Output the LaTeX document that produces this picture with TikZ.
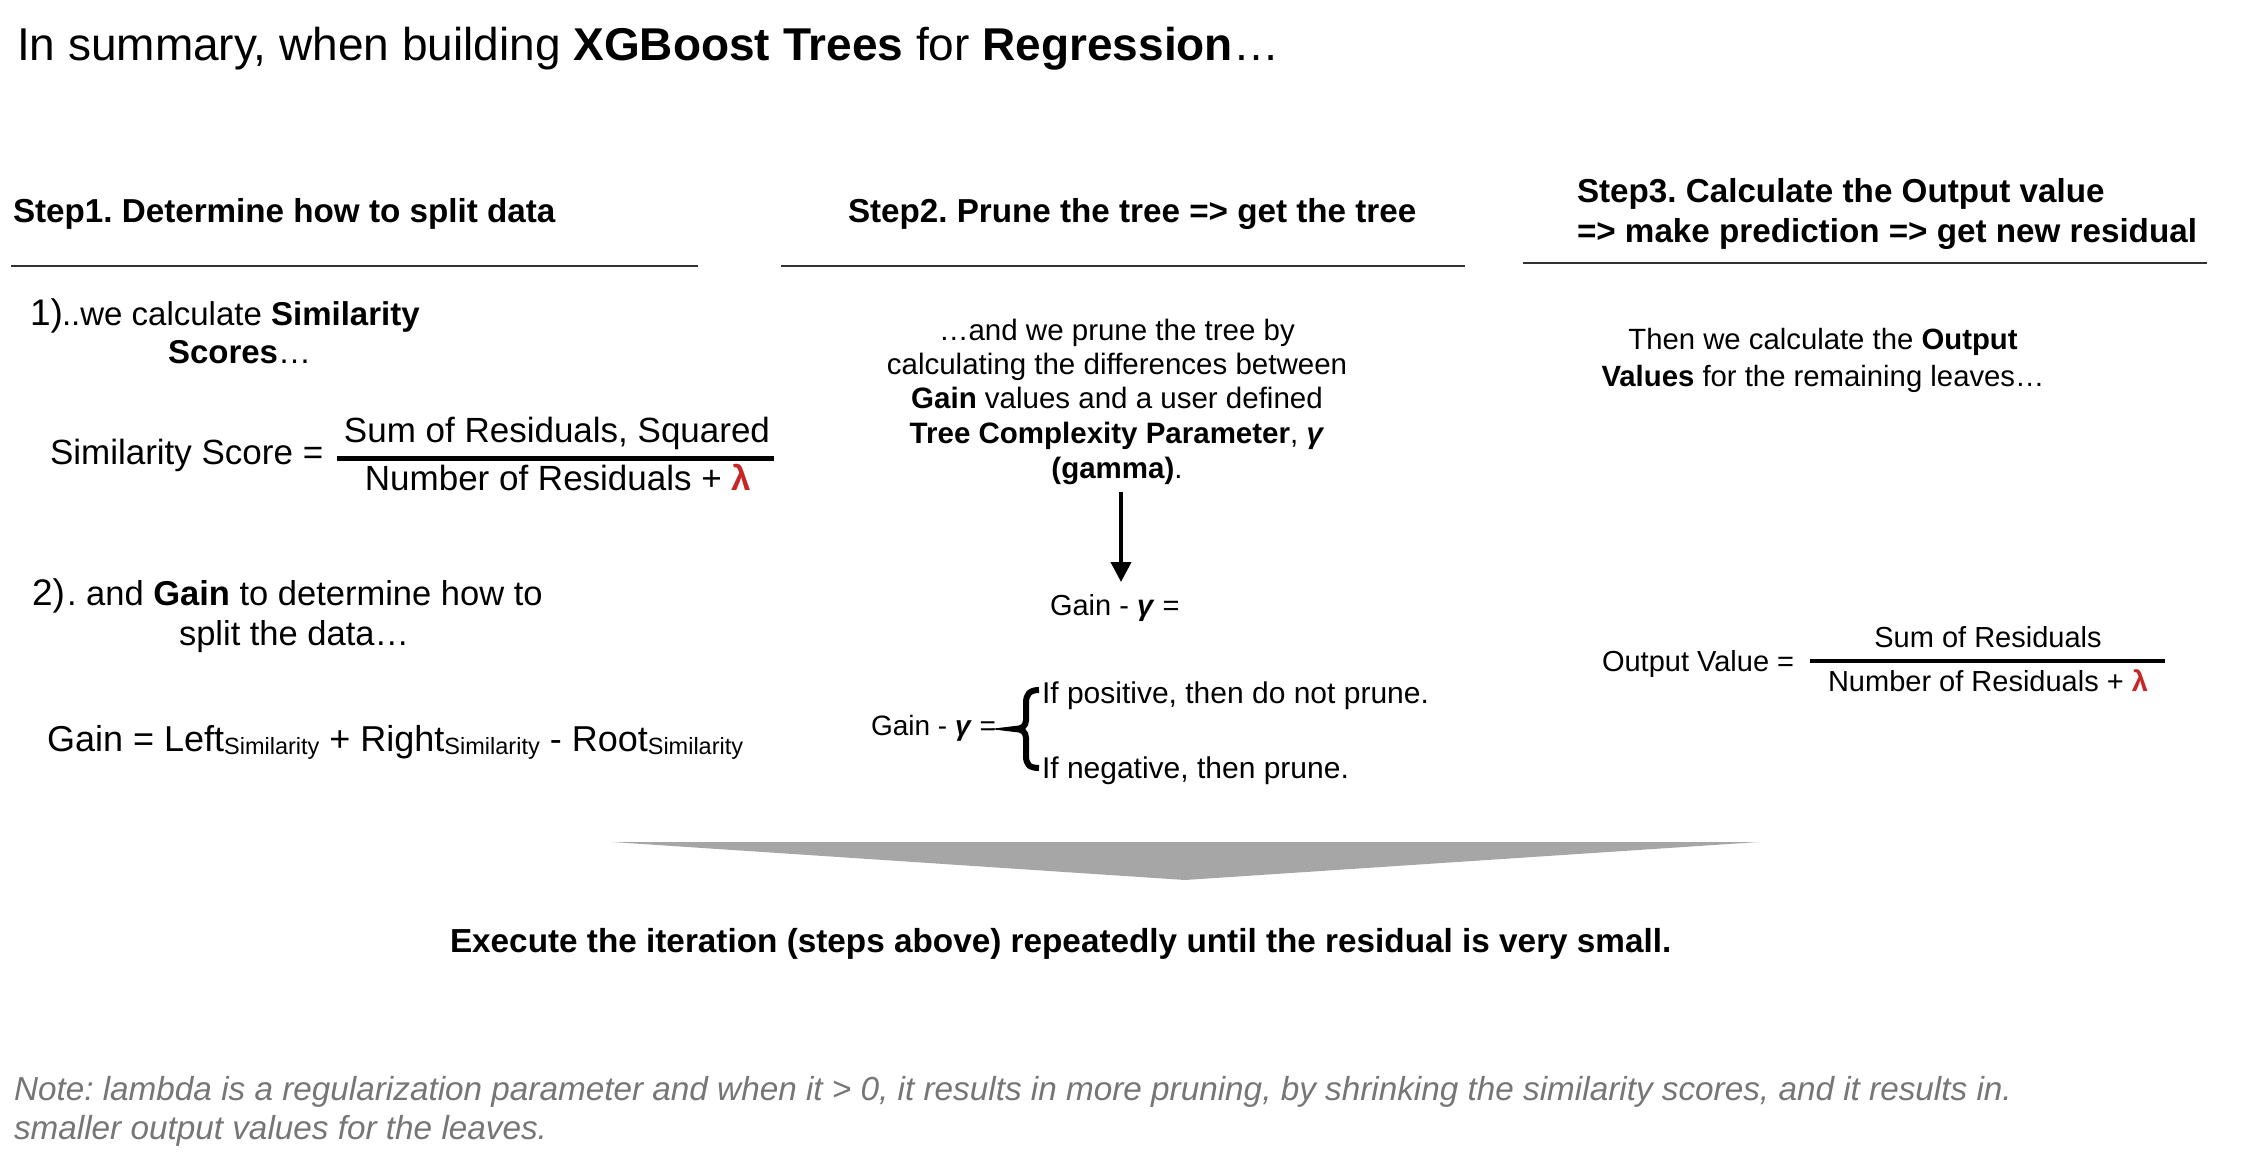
\documentclass[tikz,border=0pt]{standalone}
\usepackage{fontspec}
\setmainfont{Liberation Sans}
\usetikzlibrary{arrows.meta}
\definecolor{lamred}{RGB}{200,38,38}
\definecolor{notegray}{RGB}{118,118,118}
\definecolor{arrowgray}{RGB}{166,166,166}
\definecolor{rulegray}{RGB}{50,50,50}
\newcommand{\lam}{\textcolor{lamred}{\textbf{λ}}}
\newcommand{\gam}{\textbf{\textit{γ}}}
\newcommand{\simsub}{\raisebox{-3pt}{\fontsize{23.5}{23.5}\selectfont Similarity}}
\frenchspacing
\begin{document}
\begin{tikzpicture}[x=1pt,y=-1pt,
  txt/.style={inner sep=0pt, outer sep=0pt, anchor=base west},
  ctxt/.style={inner sep=0pt, outer sep=0pt, anchor=base},
  fs/.style={font=\fontsize{#1}{#1}\selectfont},
  hdr/.style={txt, font=\fontsize{33.2}{40}\selectfont\bfseries},
  rulel/.style={draw=rulegray, line width=1.5pt},
  fracbar/.style={draw=black, line width=#1},
  note/.style={txt, text=notegray, font=\fontsize{33.3}{40}\selectfont\itshape}]
\useasboundingbox[fill=white] (0,0) rectangle (2246,1164);

% title
\node[txt,fs=46] (title) at (17,61) {In summary, when building \textbf{XGBoost Trees} for \textbf{Regression}…};

% step headers
\node[hdr] (s1) at (13,222) {Step1. Determine how to split data};
\node[hdr] (s2) at (848,222) {Step2. Prune the tree => get the tree};
\node[hdr] (s3a) at (1577,202) {Step3. Calculate the Output value};
\node[hdr] (s3b) at (1577,242) {=> make prediction => get new residual};

% rules
\coordinate (r1a) at (11,266);  \coordinate (r1b) at (698,266);
\coordinate (r2a) at (781,266); \coordinate (r2b) at (1465,266);
\coordinate (r3a) at (1523,263); \coordinate (r3b) at (2207,263);
\draw[rulel] (r1a) -- (r1b);
\draw[rulel] (r2a) -- (r2b);
\draw[rulel] (r3a) -- (r3b);

% column 1
\node[txt,fs=37] (n1) at (30,325) {1)};
\node[txt,fs=33] (t1) at (62,325) {..we calculate \textbf{Similarity}};
\node[txt,fs=33] (t1b) at (168,363) {\textbf{Scores}…};

\node[txt,fs=35] (ss) at (50,464) {Similarity Score =};
\node[ctxt,fs=35] (num1) at (557,442) {Sum of Residuals, Squared};
\node[ctxt,fs=35] (den1) at (558,490) {Number of Residuals + \lam};
\coordinate (b1a) at (337,458); \coordinate (b1b) at (774,458);
\draw[fracbar=5pt] (b1a) -- (b1b);

\node[txt,fs=37] (n2) at (32,605) {2)};
\node[txt,fs=34.5] (t2) at (67,605) {. and \textbf{Gain} to determine how to};
\node[txt,fs=34.5] (t2b) at (179,645) {split the data…};

\node[txt,fs=36] (gain) at (47,751) {Gain = Left\simsub{} + Right\simsub{} - Root\simsub};

% column 2
\node[ctxt,fs=29.5] (m1) at (1117,340) {…and we prune the tree by};
\node[ctxt,fs=29.5] (m2) at (1117,374) {calculating the differences between};
\node[ctxt,fs=29.5] (m3) at (1117,408) {\textbf{Gain} values and a user defined};
\node[ctxt,fs=29.5] (m4) at (1117,443) {\textbf{Tree Complexity Parameter}, \gam};
\node[ctxt,fs=29.5] (m5) at (1117,478) {\textbf{(gamma)}.};

\coordinate (ar1) at (1121,492); \coordinate (ar2) at (1121,582);
\draw[line width=4pt, -{Triangle[length=20pt,width=20pt]}] (ar1) -- (ar2);

\node[txt,fs=29] (g1) at (1050,615) {Gain - \gam{} =};

\node[txt,fs=28] (g2) at (871,735) {Gain - \gam{} =};
\draw[line width=6pt, line cap=butt]
  (1039,690) .. controls (1029,690) and (1026,695) .. (1026,703) -- (1026,720)
  .. controls (1026,726) and (1022,729) .. (1015,729)
  .. controls (1022,729) and (1026,732) .. (1026,738) -- (1026,756)
  .. controls (1026,764) and (1029,768) .. (1039,768);
\node[txt,fs=30] (if1) at (1042,703) {If positive, then do not prune.};
\node[txt,fs=30] (if2) at (1042,778) {If negative, then prune.};

% column 3
\node[ctxt,fs=29.3] (o1) at (1823,349) {Then we calculate the \textbf{Output}};
\node[ctxt,fs=29.3] (o2) at (1823,386) {\textbf{Values} for the remaining leaves…};

\node[txt,fs=29] (ov) at (1602,671) {Output Value =};
\node[ctxt,fs=29] (num2) at (1988,647) {Sum of Residuals};
\node[ctxt,fs=29] (den2) at (1988,691) {Number of Residuals + \lam};
\coordinate (b2a) at (1810,661); \coordinate (b2b) at (2165,661);
\draw[fracbar=4.5pt] (b2a) -- (b2b);

% big grey arrow
\coordinate (ga) at (612,842); \coordinate (gb) at (1759,842); \coordinate (gc) at (1185,880);
\fill[arrowgray] (ga) -- (gb) -- (gc) -- cycle;

\node[txt,font=\fontsize{33.3}{40}\selectfont\bfseries] (exec) at (450,952) {Execute the iteration (steps above) repeatedly until the residual is very small.};

% note
\node[note] (note1) at (14,1100) {Note: lambda is a regularization parameter and when it > 0, it results in more pruning, by shrinking the similarity scores, and it results in.};
\node[note] (note2) at (14,1139) {smaller output values for the leaves.};
\end{tikzpicture}
\end{document}
